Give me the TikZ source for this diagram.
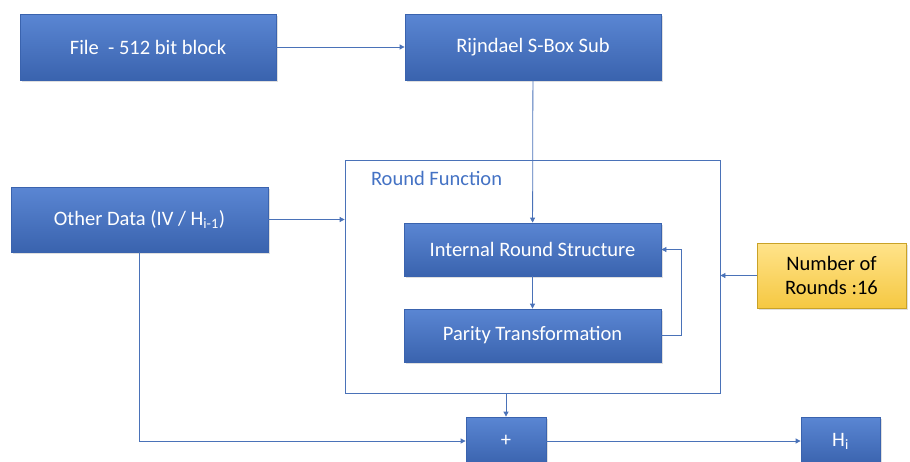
\documentclass[tikz,border=0pt]{standalone}
\usepackage{fontspec}
\setmainfont{Carlito}
\usepackage{xcolor}
\usepackage{tikz}
\usetikzlibrary{arrows.meta}
\usetikzlibrary{positioning}
\usetikzlibrary{shadows}

\definecolor{boxtop}{HTML}{5A86D3}
\definecolor{boxmid}{HTML}{4472C4}
\definecolor{boxbot}{HTML}{3A63AE}
\definecolor{linecol}{HTML}{4A72B8}
\definecolor{goldtop}{HTML}{FFE38A}
\definecolor{goldbot}{HTML}{F5C842}
\definecolor{goldedge}{HTML}{C9A227}

\begin{document}
\begin{tikzpicture}[
		x=1pt,
		y=-1pt,
		font=\fontsize{20.5pt}{24pt}\selectfont,
		>={Triangle[length=5,width=5]},
		line width=0.8,
	]
		\tikzset{bluebox/.style={
			rectangle,
			top color=boxtop,
			middle color=boxmid,
			bottom color=boxbot,
			draw=boxbot,
			text=white,
			inner sep=2,
			drop shadow={opacity=0.25,shadow xshift=1.5pt,shadow yshift=-1.5pt},
		}}
		\tikzset{goldbox/.style={
			rectangle,
			top color=goldtop,
			bottom color=goldbot,
			draw=goldedge,
			text=black,
			align=center,
			inner sep=2,
			drop shadow={opacity=0.25,shadow xshift=1.5pt,shadow yshift=-1.5pt},
		}}
		\tikzset{conn/.style={
			draw=linecol,
		}}

		\useasboundingbox (0,0) rectangle (910,461);
		\clip (0,0) rectangle (910,461);

		% top row
		\node[
			bluebox,
			minimum width=256,
			minimum height=66,
		] (file) at (148,47) {File\ \ - 512 bit block};
		\node[
			bluebox,
			minimum width=256,
			minimum height=66,
		] (sbox) at (533,47) {Rijndael S-Box Sub};

		% round function frame
		\node[
			draw=linecol,
			rectangle,
			minimum width=375,
			minimum height=233,
		] (frame) at (532.5,276.5) {};
		\node[
			anchor=north west,
			text=boxmid,
			inner sep=0,
		] (rflabel) at ([xshift=26,yshift=-11]frame.north west) {Round Function};

		\node[
			bluebox,
			minimum width=257,
			minimum height=53,
		] (irs) at (532.5,249.5) {Internal Round Structure};
		\node[
			bluebox,
			minimum width=257,
			minimum height=53,
		] (parity) at (532.5,335.5) {Parity Transformation};

		\node[
			bluebox,
			minimum width=257,
			minimum height=65,
		] (other) at (139.5,219.5) {Other Data (IV / H\textsubscript{i-1})};

		\node[
			goldbox,
			minimum width=149,
			minimum height=65,
		] (rounds) at (831.5,275.5) {Number of\\Rounds :16};

		% bottom row
		\node[
			bluebox,
			minimum width=80,
			minimum height=48,
		] (plus) at (506,441) {+};
		\node[
			bluebox,
			minimum width=79,
			minimum height=48,
		] (hi) at (840.5,441) {H\textsubscript{i}};

		% connectors
		\draw[conn,->] (file) -- (sbox);
		\draw[conn,->] (sbox) -- (irs);
		\draw[conn,->] (irs) -- (parity);
		\draw[conn,->] (parity.east) -- ++(20,0) |- (irs.east);
		\draw[conn,->] (other.east) -- (other.east -| frame.west);
		\draw[conn,->] (rounds.west) -- (rounds.west -| frame.east);
		\draw[conn,->] (frame.south -| plus.north) -- (plus.north);
		\draw[conn,->] (other.south) |- (plus.west);
		\draw[conn,->] (plus) -- (hi);
	\end{tikzpicture}
\end{document}
